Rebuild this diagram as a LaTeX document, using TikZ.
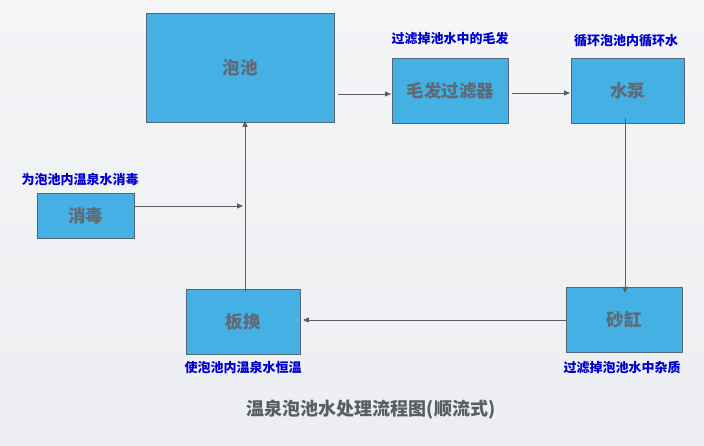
\documentclass[tikz,border=0pt]{standalone}
\usepackage{fontspec}
\setmainfont{Liberation Serif}
\newfontfamily\cjk{Noto Sans CJK SC}
\usetikzlibrary{arrows.meta}
\definecolor{bgtop}{HTML}{F4F5F7}
\definecolor{bgbot}{HTML}{ECEEF1}
\definecolor{boxfill}{HTML}{45B0E3}
\definecolor{boxline}{HTML}{556677}
\definecolor{boxtext}{HTML}{5F6A74}
\definecolor{titletext}{HTML}{5A5E63}
\definecolor{note}{HTML}{0000D0}
\definecolor{arr}{HTML}{5A5F66}
\tikzset{
  stepbox/.style={draw=boxline, line width=0.9pt, fill=boxfill, inner sep=0pt, anchor=north west,
    font=\cjk\bfseries\fontsize{17.5}{20}\selectfont, text=boxtext},
  notetext/.style={font=\cjk\bfseries\fontsize{13}{15}\selectfont, text=note, inner sep=0pt},
  flow/.style={draw=arr, line width=0.8pt, -{Triangle[length=6pt,width=5pt]}},
}
\begin{document}
\begin{tikzpicture}[x=1pt,y=-1pt]
\shade[top color=bgtop, bottom color=bgbot] (0,0) rectangle (704,446);
\useasboundingbox (0,0) rectangle (704,446);
\node[stepbox, minimum width=188pt, minimum height=109pt] (pool) at (146,13) {泡池};
\node[stepbox, minimum width=116pt, minimum height=65pt] (filter) at (392,58) {毛发过滤器};
\node[stepbox, minimum width=113pt, minimum height=65pt] (pump) at (571,58) {水泵};
\node[stepbox, minimum width=97pt, minimum height=45pt] (dis) at (37,193) {消毒};
\node[stepbox, minimum width=114pt, minimum height=65pt] (hx) at (186,289) {板换};
\node[stepbox, minimum width=116pt, minimum height=65pt] (sand) at (566,287) {砂缸};

\node[notetext] (n1) at (450,39) {过滤掉池水中的毛发};
\node[notetext] (n2) at (626,41) {循环泡池内循环水};
\node[notetext] (n3) at (80,180) {为泡池内温泉水消毒};
\node[notetext] (n4) at (243,368) {使泡池内温泉水恒温};
\node[notetext] (n5) at (622,368) {过滤掉泡池水中杂质};
\node[font=\cjk\bfseries\fontsize{18}{21}\selectfont, text=titletext, inner sep=0pt] (title) at (371,410) {温泉泡池水处理流程图(顺流式)};

\coordinate (j) at (245,206);
\draw[flow] ([xshift=3pt]pool.east |- 0,94) -- ([xshift=-1pt]filter.west |- 0,94);
\draw[flow] ([xshift=3pt]filter.east |- 0,93) -- ([xshift=-1pt]pump.west |- 0,93);
\draw[flow] ([yshift=6pt]pump.south -| 625,0) -- ([yshift=-6pt]sand.north -| 625,0);
\draw[flow] (sand.west |- 0,320) -- ([xshift=2pt]hx.east |- 0,320);
\draw[flow] ([yshift=-3pt]hx.north -| 245,0) -- ([yshift=2pt]pool.south -| 245,0);
\draw[flow] (dis.east |- 0,206) -- ([xshift=-2pt]j);
\end{tikzpicture}
\end{document}
